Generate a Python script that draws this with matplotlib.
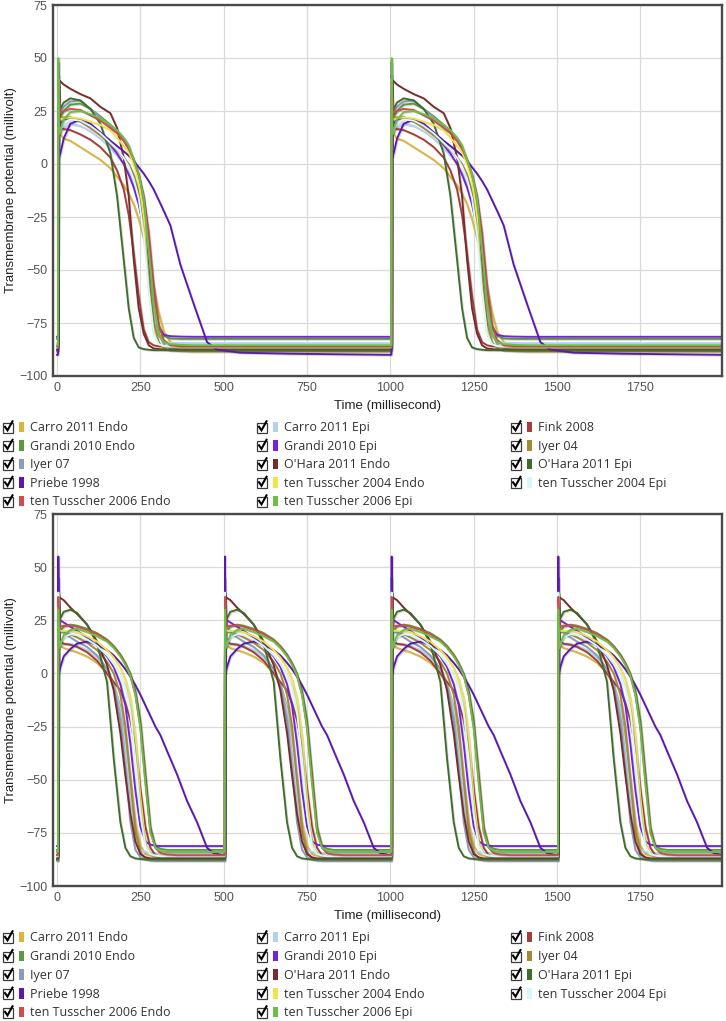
import matplotlib
matplotlib.use("Agg")
import matplotlib.pyplot as plt
import matplotlib.patheffects as pe
from matplotlib.lines import Line2D
from matplotlib.patches import Rectangle
import numpy as np

W, H = 726, 1021

model_names = [
    "Carro 2011 Endo", "Carro 2011 Epi", "Fink 2008",
    "Grandi 2010 Endo", "Grandi 2010 Epi", "Iyer 04",
    "Iyer 07", "O'Hara 2011 Endo", "O'Hara 2011 Epi",
    "Priebe 1998", "ten Tusscher 2004 Endo", "ten Tusscher 2004 Epi",
    "ten Tusscher 2006 Endo", "ten Tusscher 2006 Epi",
]
model_colors = [
    "#dab63e", "#b4d0f0", "#a63c3c",
    "#5c9a3e", "#7323e0", "#a48a32",
    "#8c9cb8", "#782c2c", "#3e6e2a",
    "#5a18b0", "#f2e447", "#d6f8fa",
    "#d04c4c", "#6cbf44",
]

# one beat, time (ms) after the stimulus; top panel paced every 1000 ms
t_beat_1000 = [0, 3, 4, 6, 10, 20, 40, 70, 100, 130, 160, 180, 200, 215, 230,
               245, 260, 275, 290, 305, 320, 340, 370, 410, 450, 480, 550, 700, 997]
beat_starts_1000 = [0, 1000]

# bottom panel paced every 500 ms
t_beat_500 = [0, 3, 4, 6, 10, 20, 40, 60, 90, 120, 150, 170, 190, 205, 220,
              235, 250, 265, 280, 295, 310, 330, 360, 390, 420, 450, 470, 497]
beat_starts_500 = [0, 500, 1000, 1500]

# membrane potential (mV) at t_beat_1000
carro_endo_1000 = [-86, -86, 30, 20, 14, 12, 11, 8, 5, 2, -2, -6, -10, -14, -19,
                   -26, -35, -46, -58, -70, -79, -84, -85.5, -86, -86, -86, -86, -86.2, -86.3]
carro_epi_1000 = [-84.5, -84.5, 35, 16, 15, 17, 19, 18, 15.5, 12, 7.5, 4, 0, -4, -10,
                  -18, -30, -50, -72, -81, -84, -84.3, -84.4, -84.5, -84.5, -84.5, -84.5, -84.5, -84.5]
fink_1000 = [-86, -86, 35, 20, 17, 16.5, 16, 14, 11.5, 8, 3, -3, -12, -24, -42,
             -62, -78, -84, -85.5, -86, -86, -86, -86, -86, -86, -86, -86, -86, -86]
grandi_endo_1000 = [-82.5, -82.5, 35, 20, 22, 25, 28, 28.5, 26, 22.5, 18.5, 15, 11, 7, 1,
                    -6, -17, -35, -60, -76, -81, -82.3, -82.5, -82.5, -82.5, -82.5, -82.5, -82.5, -82.5]
grandi_epi_1000 = [-81.5, -81.5, 42, 18, 19, 21, 22, 21, 18, 14, 9, 5, 0, -5, -11,
                   -19, -30, -47, -65, -77, -80.5, -81.2, -81.4, -81.5, -81.5, -81.5, -81.5, -81.5, -81.5]
iyer04_1000 = [-88.5, -88.5, 38, 25, 22, 22, 22, 20, 17, 13.5, 9.5, 6.5, 3, 0, -5,
               -13, -28, -52, -74, -84, -87, -88, -88.3, -88.5, -88.5, -88.5, -88.5, -88.5, -88.5]
iyer07_1000 = [-87.5, -87.5, 40, 25, 24, 27, 29.5, 30, 26, 22, 18, 15, 11, 7.5, 2,
               -6, -18, -40, -66, -80, -85, -87, -87.3, -87.5, -87.5, -87.5, -87.5, -87.5, -87.5]
ohara_endo_1000 = [-87.5, -87.5, 40, 39.5, 39, 37.5, 35.5, 33, 31, 27, 24, 17, 3, -15, -45,
                   -68, -80, -85.5, -87, -87.3, -87.5, -87.5, -87.5, -87.5, -87.5, -87.5, -87.5, -87.5, -87.5]
ohara_epi_1000 = [-87.8, -87.8, 38, 25, 26, 29, 31, 30, 26, 19, 5, -15, -45, -68, -82,
                  -86.5, -87.3, -87.6, -87.8, -87.8, -87.8, -87.8, -87.8, -87.8, -87.8, -87.8, -87.8, -87.8, -87.8]
priebe_1000 = [-90, -90, 48, 3, 5, 12, 19, 21, 19, 15, 11, 8.5, 6, 4, 1.5,
               -1.5, -4.5, -8, -12, -17, -22, -29, -47.5, -66, -84, -87.5, -89, -89.5, -90]
tt04_endo_1000 = [-86.5, -86.5, 40, 22, 21, 21.5, 22, 21.5, 20, 18.5, 16, 12.5, 8.5, 5.5, 0,
                  -8, -25, -58, -80, -85, -86, -86.3, -86.5, -86.5, -86.5, -86.5, -86.5, -86.5, -86.5]
tt04_epi_1000 = [-86, -86, 40, 14, 16, 19, 21, 20.5, 18, 14.5, 10, 7, 3, -1, -7,
                 -16, -33, -60, -80, -85, -85.8, -86, -86, -86, -86, -86, -86, -86, -86]
tt06_endo_1000 = [-86, -86, 39, 33, 24, 25, 26, 25.5, 23, 20.5, 17, 14.5, 11, 7.5, 2,
                  -5, -15, -32, -57, -76, -83, -85.5, -86, -86, -86, -86, -86, -86, -86]
tt06_epi_1000 = [-85.5, -85.5, 50, 14, 16, 21, 24.5, 25, 23.5, 21.5, 18.5, 16, 12.5, 9, 2,
                 -5, -16, -40, -65, -80, -84, -85, -85.3, -85.5, -85.5, -85.5, -85.5, -85.5, -85.5]

# membrane potential (mV) at t_beat_500
carro_endo_500 = [-86, -86, 28, 16, 13, 12, 11, 10, 8, 5, 0, -6, -16, -30, -50,
                  -70, -81, -85, -85.7, -86, -86, -86, -86, -86, -86, -86, -86, -86]
carro_epi_500 = [-84.5, -84.5, 30, 14, 13, 14, 14, 13, 11, 7.5, 2, -5, -17, -35, -58,
                 -76, -83, -84, -84.3, -84.5, -84.5, -84.5, -84.5, -84.5, -84.5, -84.5, -84.5, -84.5]
fink_500 = [-86, -86, 33, 18, 15, 14, 13.5, 12.5, 10, 6, 0, -4, -8, -14, -22,
            -35, -54, -72, -82, -85.5, -86, -86, -86, -86, -86, -86, -86, -86]
grandi_endo_500 = [-83, -83, 33, 18, 20, 22, 23, 22.5, 21, 19, 16, 13, 9, 5, 0,
                   -8, -22, -47, -72, -81, -82.5, -83, -83, -83, -83, -83, -83, -83]
grandi_epi_500 = [-81.2, -81.2, 45, 24, 25, 24, 22, 20, 17, 13, 8, 3, -5, -15, -33,
                  -55, -72, -79, -80.5, -81, -81.2, -81.2, -81.2, -81.2, -81.2, -81.2, -81.2, -81.2]
iyer04_500 = [-88, -88, 36, 22, 20, 19.5, 18.5, 17, 14.5, 11, 5.5, 0, -10, -25, -50,
              -74, -84, -87, -87.7, -88, -88, -88, -88, -88, -88, -88, -88, -88]
iyer07_500 = [-88, -88, 38, 22, 20, 19, 17, 15, 12.5, 8.5, 2, -6, -22, -45, -70,
              -83, -86.5, -87.5, -88, -88, -88, -88, -88, -88, -88, -88, -88, -88]
ohara_endo_500 = [-87, -87, 37, 36, 35.5, 34.5, 31, 28, 23, 15, 4, -8, -28, -48, -66,
                  -79, -85, -86.5, -87, -87, -87, -87, -87, -87, -87, -87, -87, -87]
ohara_epi_500 = [-87.5, -87.5, 34, 24, 26, 29, 30, 28.5, 23, 14, -4, -40, -70, -82, -86,
                 -87, -87.3, -87.5, -87.5, -87.5, -87.5, -87.5, -87.5, -87.5, -87.5, -87.5, -87.5, -87.5]
priebe_500 = [-85.5, -85.5, 55, 0, 3, 8, 11.5, 14, 15, 13.5, 11, 8.5, 5, 2, -1.5,
              -5.5, -10, -15, -20, -25, -29, -36.5, -47.5, -60, -70, -82, -84.5, -85.5]
tt04_endo_500 = [-86, -86, 38, 22, 20, 20, 20, 19.5, 17.5, 15, 11, 7.5, 2.5, -3, -12,
                 -30, -58, -79, -85, -85.7, -86, -86, -86, -86, -86, -86, -86, -86]
tt04_epi_500 = [-86, -86, 38, 12, 14, 17, 18.5, 18, 16, 13, 8.5, 4.5, -1, -7, -18,
                -40, -66, -81, -85, -85.7, -86, -86, -86, -86, -86, -86, -86, -86]
tt06_endo_500 = [-85.5, -85.5, 36, 28, 22, 22.5, 22.5, 22, 20.5, 18.5, 15.5, 12.5, 8.5, 4.5, -1,
                 -10, -25, -50, -74, -82, -84.5, -85.2, -85.5, -85.5, -85.5, -85.5, -85.5, -85.5]
tt06_epi_500 = [-84, -84, 30, 12, 14, 18, 20.5, 21, 19.5, 17.5, 15, 12, 8, 4, -1,
                -10, -26, -52, -75, -82, -83.5, -84, -84, -84, -84, -84, -84, -84]

volts_1000 = [
    carro_endo_1000, carro_epi_1000, fink_1000, grandi_endo_1000, grandi_epi_1000,
    iyer04_1000, iyer07_1000, ohara_endo_1000, ohara_epi_1000, priebe_1000,
    tt04_endo_1000, tt04_epi_1000, tt06_endo_1000, tt06_epi_1000,
]
volts_500 = [
    carro_endo_500, carro_epi_500, fink_500, grandi_endo_500, grandi_epi_500,
    iyer04_500, iyer07_500, ohara_endo_500, ohara_epi_500, priebe_500,
    tt04_endo_500, tt04_epi_500, tt06_endo_500, tt06_epi_500,
]

x_ticks = [0, 250, 500, 750, 1000, 1250, 1500, 1750]
y_ticks = [-100, -75, -50, -25, 0, 25, 50, 75]


def fx(x):
    return x / W


def fy(y):
    return 1 - y / H


def pulse_train(t_beat, v_beat, starts):
    t = np.concatenate([np.asarray(t_beat, dtype=float) + s for s in starts])
    v = np.tile(np.asarray(v_beat, dtype=float), len(starts))
    return t, v


def draw_panel(fig, top_px, bottom_px, t_beat, volts, starts):
    ax = fig.add_axes([fx(53), fy(bottom_px), fx(722) - fx(53), (bottom_px - top_px) / H])
    shadow = [pe.SimpleLineShadow(offset=(0.7, -0.7), shadow_color="#444", alpha=0.22),
              pe.Normal()]
    for v_beat, color in zip(volts, model_colors):
        t, v = pulse_train(t_beat, v_beat, starts)
        ax.plot(t, v, color=color, lw=1.35, solid_joinstyle="round", path_effects=shadow)
    ax.set_xlim(-12, 1995)
    ax.set_ylim(-100, 75)
    ax.set_xticks(x_ticks)
    ax.set_yticks(y_ticks)
    ax.grid(color="#dadada", lw=0.9)
    ax.set_axisbelow(True)
    ax.tick_params(length=0, labelsize=9, labelcolor="#555555", pad=4)
    for lab in ax.get_xticklabels() + ax.get_yticklabels():
        lab.set_fontfamily("Liberation Sans")
    for spine in ax.spines.values():
        spine.set_color("#4a4a4a")
        spine.set_linewidth(1.7)
    fig.text(fx(387.5), fy(bottom_px + 30), "Time (millisecond)", ha="center", va="center",
             fontsize=9.5, family="Liberation Sans", color="#222222")
    fig.text(fx(11), fy((top_px + bottom_px) / 2), "Transmembrane potential (millivolt)",
             rotation=90, ha="center", va="center", fontsize=9.5,
             family="Liberation Sans", color="#222222")
    return ax


def draw_legend(fig, first_row_px, row_step):
    box_x = [3, 257, 511]
    for i, (name, color) in enumerate(zip(model_names, model_colors)):
        col, row = i % 3, i // 3
        y = first_row_px + row * row_step
        x0 = box_x[col]
        fig.add_artist(Rectangle((fx(x0), fy(y + 5.5)), 10 / W, 10 / H, transform=fig.transFigure,
                                 facecolor="white", edgecolor="#3a3a3a", lw=0.9))
        fig.add_artist(Line2D([fx(x0 + 2), fx(x0 + 4.5), fx(x0 + 9.5)],
                              [fy(y - 0.5), fy(y + 3), fy(y - 6)],
                              transform=fig.transFigure, color="black", lw=1.5,
                              solid_joinstyle="miter"))
        fig.add_artist(Rectangle((fx(x0 + 15.5), fy(y + 5)), 5.5 / W, 10.5 / H,
                                 transform=fig.transFigure, facecolor=color, edgecolor="none"))
        fig.text(fx(x0 + 26.5), fy(y + 0.5), name, ha="left", va="center", fontsize=9,
                 family="Open Sans", color="#333333")


fig = plt.figure(figsize=(W / 100, H / 100), dpi=100)
fig.patch.set_facecolor("white")

draw_panel(fig, 5, 376, t_beat_1000, volts_1000, beat_starts_1000)
draw_legend(fig, 427.3, 18.5)

draw_panel(fig, 514, 886, t_beat_500, volts_500, beat_starts_500)
draw_legend(fig, 937.3, 18.75)

fig.savefig("out.png", dpi=100)
